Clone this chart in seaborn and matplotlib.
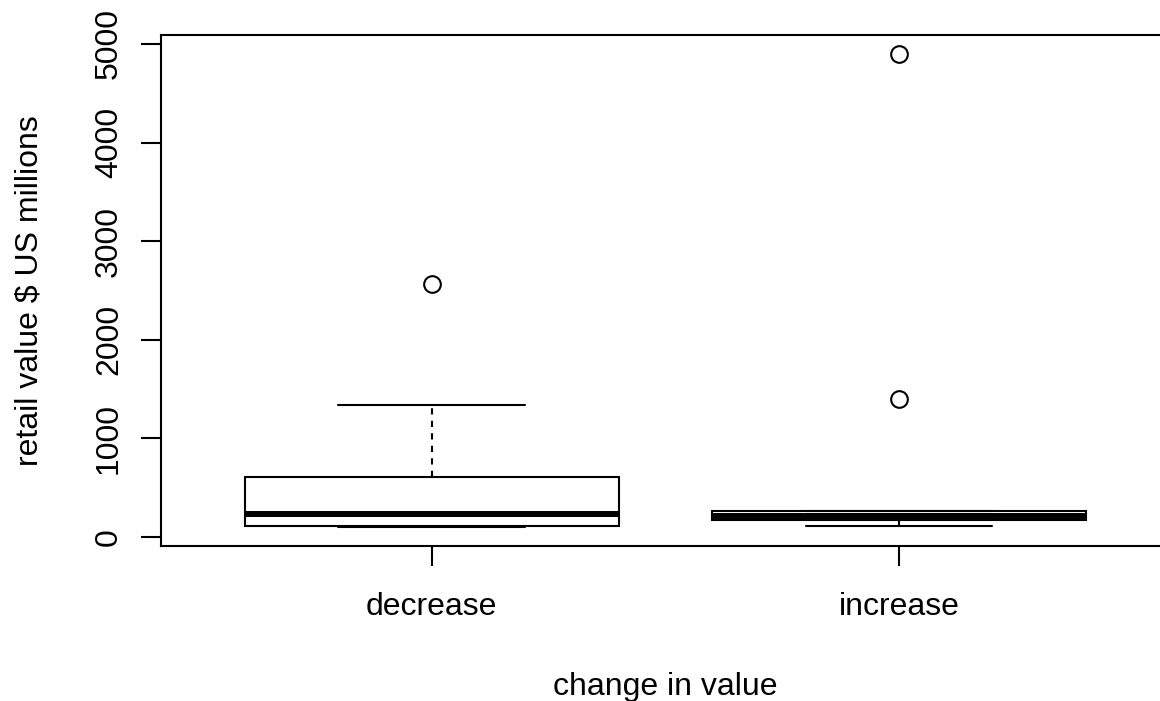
import pandas as pd
import matplotlib
matplotlib.use('Agg')
import matplotlib.pyplot as plt
import seaborn as sns

# values (R-style)
groups = ['decrease', 'increase']
decrease = [101, 106, 111, 170, 233, 420, 608, 1335, 2568]
increase = [108, 140, 172, 190, 207, 240, 263, 1402, 4899]
yticks = [0, 1000, 2000, 3000, 4000, 5000]

df = pd.DataFrame({
    'change': [groups[0]] * len(decrease) + [groups[1]] * len(increase),
    'value': decrease + increase,
})

sns.set_style('white')
plt.rcParams['font.family'] = ['Liberation Sans', 'DejaVu Sans']

fig = plt.figure(figsize=(11.6, 7.01), dpi=100)
W, H = 1160, 701
left, right, top, bottom = 160.7, 1170, 35, 545.7
ax = fig.add_axes([left / W, 1 - bottom / H, (right - left) / W, (bottom - top) / H])

lw = 1.5
sns.boxplot(data=df, x='change', y='value', order=groups, ax=ax,
            color='white', saturation=1, linecolor='black', linewidth=lw,
            width=0.8, whis=1.5, fliersize=12,
            whiskerprops=dict(linestyle=(0, (3, 3)), linewidth=lw),
            capprops=dict(linestyle='-', linewidth=lw),
            medianprops=dict(linewidth=4.3, color='black'),
            flierprops=dict(marker='o', markerfacecolor='none',
                            markeredgecolor='black', markeredgewidth=1.5))

ax.set_xlim(-0.58, 1.58)
ax.set_ylim(-91, 5091)
ax.set_yticks(yticks)
ax.set_yticklabels([str(v) for v in yticks], rotation=90, va='center')

for s in ax.spines.values():
    s.set_visible(True)
    s.set_color('black')
    s.set_linewidth(lw)

ax.tick_params(axis='both', which='major', direction='out', length=14.4,
               width=lw, color='black', labelsize=23, labelcolor='black',
               left=True, bottom=True)
ax.tick_params(axis='x', pad=19)
ax.tick_params(axis='y', pad=12)

ax.set_xlabel('change in value', fontsize=23, color='black')
ax.set_ylabel('retail value $ US millions', fontsize=23, color='black')
ax.xaxis.set_label_coords(0.5, -0.247)
ax.yaxis.set_label_coords(-0.1156, 0.5)

fig.savefig('out.png', dpi=100)
